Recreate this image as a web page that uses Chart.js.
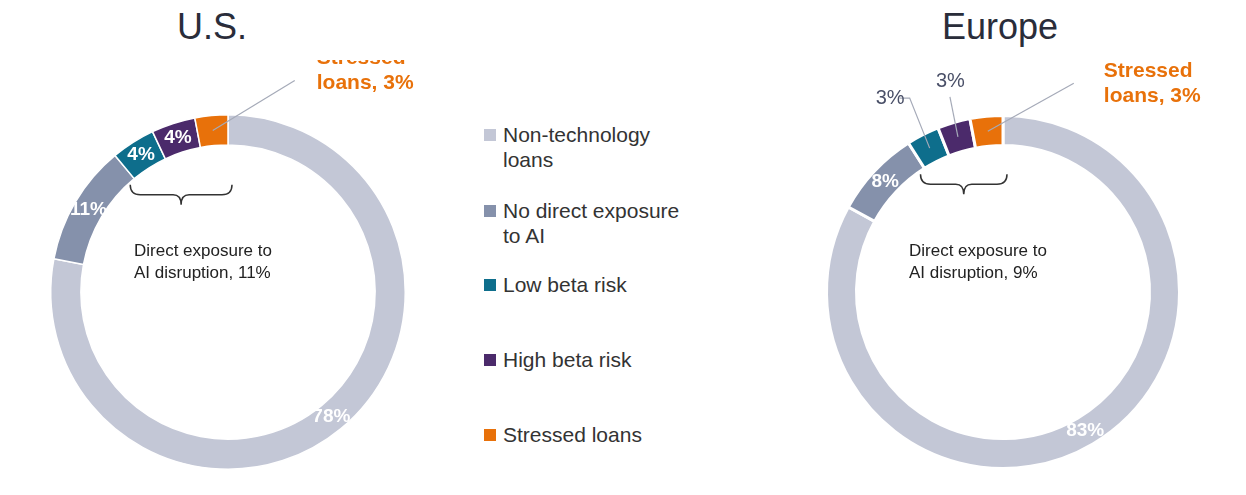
<!DOCTYPE html>
<html><head><meta charset="utf-8">
<script src="https://cdn.jsdelivr.net/npm/chart.js@4"></script>
<style>
body{margin:0;width:1246px;height:495px;background:#fff;font-family:Arial,"Liberation Sans",sans-serif;position:relative;overflow:hidden}
.t{position:absolute;top:6px;font-size:36px;color:#2a2d3a;width:300px;text-align:center;z-index:2}
.c{position:absolute;top:60px;width:500px;height:420px}
#legend{position:absolute;left:484px;top:122px;font-size:21px;color:#333;z-index:2}
#legend div{position:absolute;left:0;white-space:nowrap;line-height:25px}
#legend span{display:inline-block;width:12px;height:12px;margin-right:7px;vertical-align:1px}
</style></head><body>
<div class="t" style="left:62px">U.S.</div>
<div class="t" style="left:850px">Europe</div>
<div class="c" style="left:-22px"><canvas id="us"></canvas></div>
<div class="c" style="left:753px"><canvas id="eu"></canvas></div>
<div id="legend"></div>
<script>
// --- data ---
const categories = ['Non-technology loans', 'No direct exposure to AI', 'Low beta risk', 'High beta risk', 'Stressed loans'];
const legendLabels = ['Non-technology<br>loans', 'No direct exposure<br>to AI', 'Low beta risk', 'High beta risk', 'Stressed loans'];
const usValues = [78, 11, 4, 4, 3];
const euValues = [83, 8, 3, 3, 3];
const usDirect = 11, euDirect = 9;
const colors = ['#c3c7d6', '#8591ab', '#0e6e8c', '#4b2a6b', '#e8710a'];

// legend
const lg = document.getElementById('legend');
[0, 76, 150, 225, 300].forEach((y, i) => {
  const d = document.createElement('div');
  d.style.top = y + 'px';
  d.innerHTML = '<span style="background:' + colors[i] + '"></span>' + legendLabels[i].replace('<br>', '<br><span style="background:none"></span>');
  lg.appendChild(d);
});

// labels, callouts, brace
function makePlugin(values, direct, opts) {
  return {
    id: 'deco',
    afterDatasetsDraw(chart) {
      const ctx = chart.ctx;
      const arcs = chart.getDatasetMeta(0).data;
      ctx.save();
      arcs.forEach((a, i) => {
        const mid = (a.startAngle + a.endAngle) / 2;
        const r = (a.innerRadius + a.outerRadius) / 2;
        const x = a.x + Math.cos(mid) * r, y = a.y + Math.sin(mid) * r;
        if (opts.inside.includes(i)) {
          ctx.fillStyle = '#fff';
          ctx.font = 'bold 19px Arial';
          ctx.textAlign = 'center'; ctx.textBaseline = 'middle';
          ctx.fillText(values[i] + '%', x, y);
        }
        const c = opts.callouts[i];
        if (c) {
          ctx.strokeStyle = '#a5aab8'; ctx.lineWidth = 1.2;
          ctx.beginPath(); ctx.moveTo(x, y); ctx.lineTo(x + c.dx, y + c.dy);
          if (c.hx) ctx.lineTo(x + c.dx + c.hx, y + c.dy);
          ctx.stroke();
          ctx.textAlign = 'left'; ctx.textBaseline = 'middle';
          if (i === 4) {
            ctx.fillStyle = '#e8710a'; ctx.font = 'bold 21px Arial';
            ctx.fillText('Stressed', x + c.tx, y + c.ty);
            ctx.fillText('loans, ' + values[i] + '%', x + c.tx, y + c.ty + 25);
          } else {
            ctx.fillStyle = '#4a5068'; ctx.font = '20px Arial';
            ctx.fillText(values[i] + '%', x + c.tx, y + c.ty);
          }
        }
      });
      // brace under direct-exposure segments
      const a0 = arcs[2], a1 = arcs[4];
      const x0 = a0.x + Math.cos(a0.startAngle) * a0.innerRadius - 4;
      const x1 = a1.x + Math.cos(a1.endAngle) * a1.innerRadius + 4;
      const y0 = Math.max(a0.y + Math.sin(a0.startAngle) * a0.innerRadius, a1.y + Math.sin(a1.endAngle) * a1.innerRadius) + 6;
      const xm = (x0 + x1) / 2, h = 10;
      ctx.strokeStyle = '#333'; ctx.lineWidth = 1.5;
      ctx.beginPath();
      ctx.moveTo(x0, y0);
      ctx.quadraticCurveTo(x0, y0 + h, x0 + 10, y0 + h);
      ctx.lineTo(xm - 8, y0 + h);
      ctx.quadraticCurveTo(xm, y0 + h, xm, y0 + 2 * h);
      ctx.quadraticCurveTo(xm, y0 + h, xm + 8, y0 + h);
      ctx.lineTo(x1 - 10, y0 + h);
      ctx.quadraticCurveTo(x1, y0 + h, x1, y0);
      ctx.stroke();
      ctx.fillStyle = '#222'; ctx.font = '17px Arial';
      ctx.textAlign = 'left'; ctx.textBaseline = 'middle';
      ctx.fillText('Direct exposure to', a0.x - 94, a0.y - 41);
      ctx.fillText('AI disruption, ' + direct + '%', a0.x - 94, a0.y - 19);
      ctx.restore();
    }
  };
}

function makeChart(id, values, direct, opts, border) {
  new Chart(document.getElementById(id), {
    type: 'doughnut',
    data: { labels: categories, datasets: [{ data: values, backgroundColor: colors, borderColor: '#fff', borderWidth: border }] },
    options: {
      responsive: true, maintainAspectRatio: false, animation: false, cutout: '83%',
      events: [],
      layout: { padding: { left: 72, right: 72, top: 54, bottom: 10 } },
      plugins: { legend: { display: false }, tooltip: { enabled: false } }
    },
    plugins: [makePlugin(values, direct, opts)]
  });
}

makeChart('us', usValues, usDirect, {
  inside: [0, 1, 2, 3],
  callouts: { 4: { dx: 82, dy: -50, tx: 104, ty: -72 } }
}, 1.5);
makeChart('eu', euValues, euDirect, {
  inside: [0, 1],
  callouts: {
    2: { dx: -20, dy: -50, hx: -10, tx: -54, ty: -50 },
    3: { dx: -8, dy: -40, tx: -22, ty: -55 },
    4: { dx: 86, dy: -48, tx: 116, ty: -60 }
  }
}, 3);
</script>
</body></html>
